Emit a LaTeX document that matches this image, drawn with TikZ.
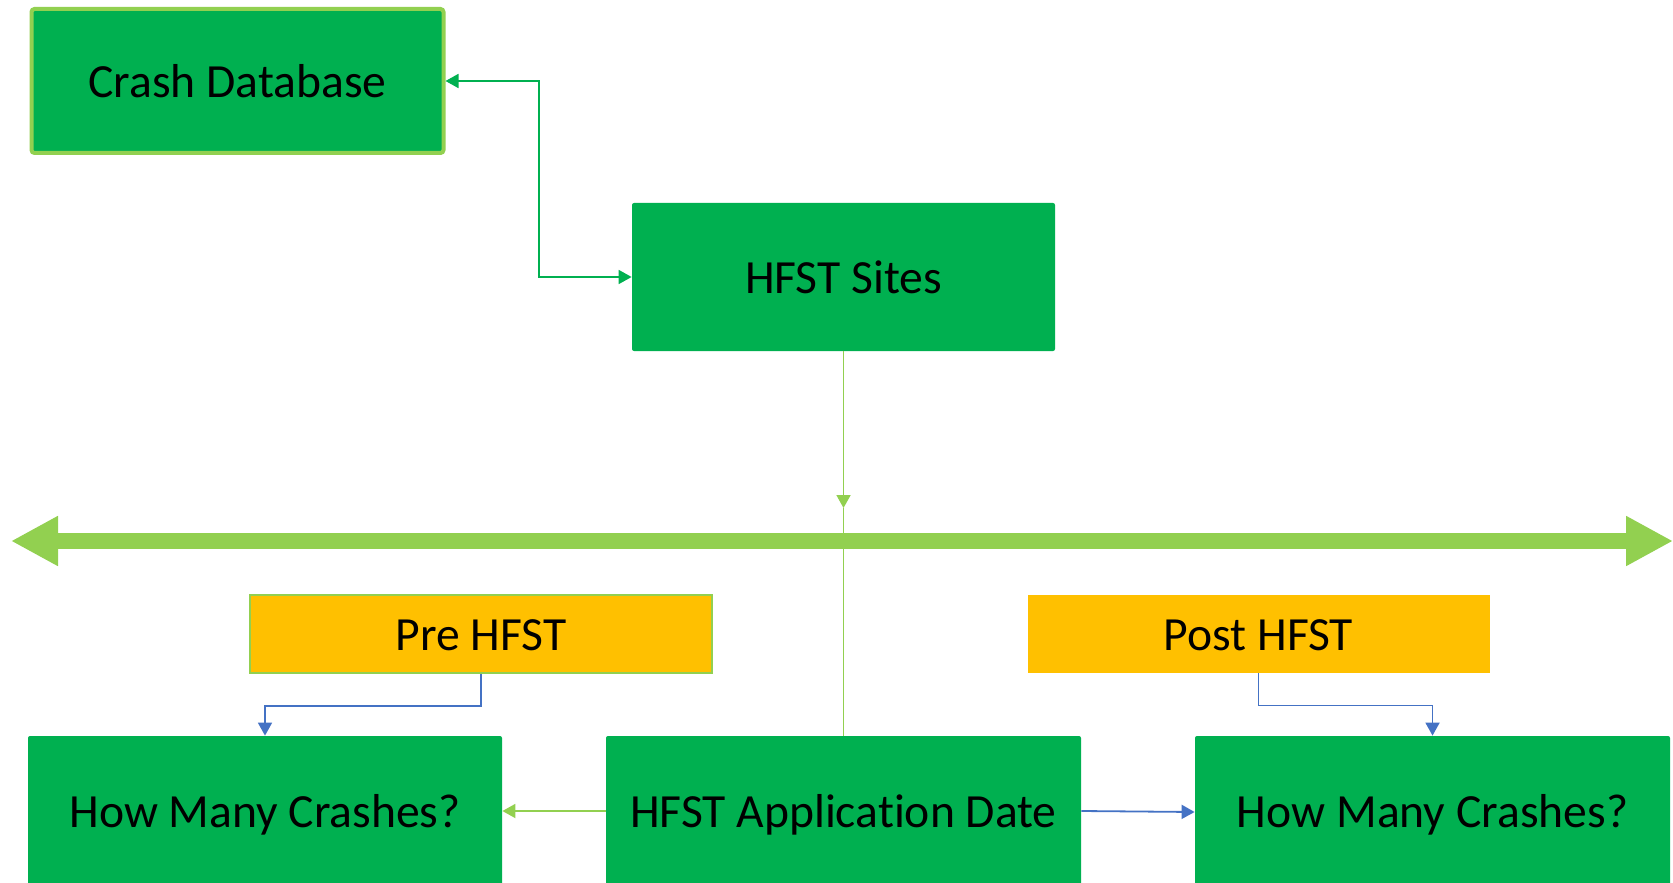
\documentclass[tikz,border=0pt]{standalone}
\usepackage{fontspec}
\setmainfont{Carlito}[Ligatures=NoCommon]
\usepackage{tikz}
\usetikzlibrary{arrows.meta}

\definecolor{boxgreen}{HTML}{00B050}
\definecolor{lightgreen}{HTML}{92D050}
\definecolor{gold}{HTML}{FFC000}
\definecolor{linkblue}{HTML}{4472C4}

\tikzset{
  stepbox/.style={fill=boxgreen, rounded corners=1pt, inner sep=0pt,
    text height=16.5pt, text depth=0pt, font=\fontsize{23.8}{28}\selectfont},
  phasebox/.style={fill=gold, inner sep=0pt, minimum width=231pt, minimum height=39pt,
    text height=16.5pt, text depth=0pt, font=\fontsize{23.8}{28}\selectfont},
  thinlink/.style={line width=0.9pt, -{Triangle[length=6.5pt,width=7pt]}},
}

\begin{document}
\begin{tikzpicture}[x=0.5pt,y=-0.5pt]

 \useasboundingbox (0,0) rectangle (1673,882);
 \clip (0,0) rectangle (1673,882);

 % Top boxes
 \node[stepbox, draw=lightgreen, line width=2pt, rounded corners=1.5pt,
   minimum width=206pt, minimum height=72pt] (crashdb) at (237.5,81) {Crash Database};
 \node[stepbox, minimum width=211.5pt, minimum height=74pt] (sites) at (843.5,277) {HFST Sites};

 \coordinate (bend) at (539,0);
 \draw[thinlink, boxgreen, {Triangle[length=6.5pt,width=7pt]}-{Triangle[length=6.5pt,width=7pt]}]
   (crashdb.east) -| (bend |- sites.west) -- (sites.west);

 % Time line
 \coordinate (tlleft) at (11,541);
 \coordinate (tlright) at (1673,541);
 \draw[lightgreen, line width=8pt,
   {Triangle[length=23.5pt,width=23.5pt]}-{Triangle[length=23.5pt,width=23.5pt]}]
   (tlleft) -- (tlright);

 \coordinate (tick) at (843.5,508);
 \draw[thinlink, lightgreen] (sites.south) -- (tick);

 % Before / after
 \node[phasebox, draw=lightgreen, line width=0.75pt] (pre) at (481,634) {Pre HFST};
 \node[phasebox] (post) at (1258.5,634) {Post HFST};

 % Bottom boxes (cut off by the lower edge)
 \node[stepbox, minimum width=237pt, minimum height=75pt] (hmcpre) at (265,811) {How Many Crashes?};
 \node[stepbox, minimum width=237.5pt, minimum height=75pt] (appdate) at (843.5,811) {HFST Application Date};
 \node[stepbox, minimum width=237.5pt, minimum height=75pt] (hmcpost) at (1432.5,811) {How Many Crashes?};

 \draw[lightgreen, line width=0.9pt] (tick) -- (appdate.north);

 \draw[thinlink, linkblue] (pre.south) -- ++(0,32) -| (hmcpre.north);
 \draw[thinlink, linkblue] (post.south) -- ++(0,32) -| (hmcpost.north);

 \draw[thinlink, lightgreen] (appdate.west) -- (hmcpre.east);
 \draw[thinlink, linkblue] (appdate.east) -- ([yshift=-0.5pt]hmcpost.west);

\end{tikzpicture}
\end{document}
